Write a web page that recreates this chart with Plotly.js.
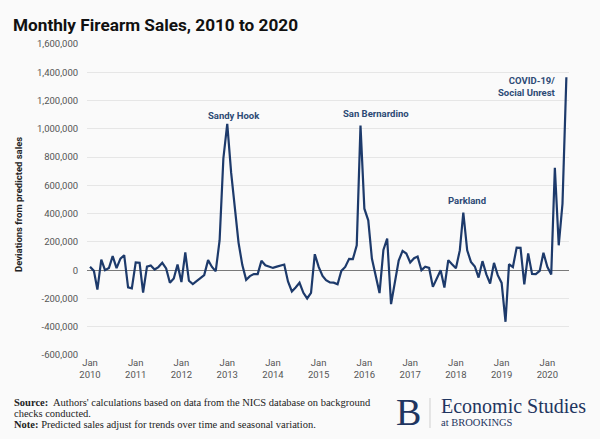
<!DOCTYPE html>
<html>
<head>
<meta charset="utf-8">
<script src="https://cdn.plot.ly/plotly-3.0.1.min.js"></script>
<style>
  html, body { margin: 0; padding: 0; background: #fafafa; }
  #chart { width: 600px; height: 439px; }
</style>
</head>
<body>
<div id="chart"></div>
<script>
// deviations from predicted monthly sales
const dev2010 = [24000, -5000, -137000, 75000, 0, 15000, 99000, 15000, 82000, 106000, -122000, -129000];
const dev2011 = [55000, 52000, -158000, 25000, 33000, 5000, 22000, 52000, 12000, -89000, -59000, 40000];
const dev2012 = [-84000, 125000, -75000, -99000, -78000, -54000, -35000, 71000, 23000, -7000, 212000, 790000];
const dev2013 = [1035000, 690000, 430000, 195000, 38000, -68000, -42000, -28000, -28000, 66000, 35000, 28000];
const dev2014 = [16000, 25000, 30000, 40000, -80000, -150000, -122000, -89000, -160000, -200000, -160000, 113000];
const dev2015 = [23000, -40000, -70000, -87000, -88000, -100000, -5000, 23000, 80000, 78000, 176000, 1023000];
const dev2016 = [435000, 353000, 82000, -55000, -162000, 143000, 224000, -240000, -94000, 68000, 136000, 118000];
const dev2017 = [55000, 85000, 96000, 0, 24000, 16000, -118000, -59000, 0, -123000, 71000, 42000];
const dev2018 = [14000, 140000, 408000, 140000, 59000, 26000, -52000, 64000, -30000, -94000, 52000, -35000];
const dev2019 = [-90000, -365000, 42000, 22000, 160000, 158000, -100000, 118000, -26000, -28000, -5000, 123000];
const dev2020 = [24000, -30000, 725000, 176000, 470000, 1365000];

const years = [2010, 2011, 2012, 2013, 2014, 2015, 2016, 2017, 2018, 2019, 2020];
const yearly = [dev2010, dev2011, dev2012, dev2013, dev2014, dev2015, dev2016, dev2017, dev2018, dev2019, dev2020];

const yTickVals = [-600000, -400000, -200000, 0, 200000, 400000, 600000, 800000, 1000000, 1200000, 1400000, 1600000];
const yTickText = ['-600,000', '-400,000', '-200,000', '0', '200,000', '400,000', '600,000', '800,000', '1,000,000', '1,200,000', '1,400,000', '1,600,000'];

const xTickVals = years.map(y => y + '-01-01');
const xTickText = years.map(y => 'Jan<br>' + y);

// flatten yearly arrays into a monthly series
const x = [], y = [];
yearly.forEach((vals, k) => {
  vals.forEach((v, m) => {
    x.push(years[k] + '-' + String(m + 1).padStart(2, '0') + '-01');
    y.push(v);
  });
});

const NAVY = '#1d3a6b';
const LABEL = '#2d4a75';

const trace = {
  x: x,
  y: y,
  type: 'scatter',
  mode: 'lines',
  line: { color: NAVY, width: 2.2 },
  hoverinfo: 'skip',
  showlegend: false
};

const annoFont = { family: 'Roboto, Arial, sans-serif', size: 9.5, color: LABEL, weight: 'bold' };
const footFont = { family: '"Liberation Serif", "DejaVu Serif", serif', size: 10.5, color: '#222' };

const layout = {
  width: 600,
  height: 439,
  margin: { l: 87, r: 31, t: 44, b: 84 },
  paper_bgcolor: '#fafafa',
  plot_bgcolor: '#fafafa',
  showlegend: false,
  title: {
    text: '<b>Monthly Firearm Sales, 2010 to 2020</b>',
    xref: 'container', yref: 'container',
    x: 13 / 600, xanchor: 'left',
    y: 1 - 25 / 439, yanchor: 'middle',
    font: { family: 'Roboto, Arial, sans-serif', size: 17.2, color: '#111' }
  },
  xaxis: {
    type: 'date',
    range: ['2009-12-08', '2020-06-22'],
    tickvals: xTickVals,
    ticktext: xTickText,
    tickfont: { family: 'Roboto, Arial, sans-serif', size: 9.5, color: '#555' },
    showgrid: false,
    zeroline: false,
    showline: false,
    ticks: ''
  },
  yaxis: {
    range: [-600000, 1600000],
    tickvals: yTickVals,
    ticktext: yTickText,
    tickfont: { family: 'Roboto, Arial, sans-serif', size: 9.5, color: '#555' },
    ticks: 'outside',
    ticklen: 6,
    tickcolor: 'rgba(0,0,0,0)',
    showgrid: true,
    gridcolor: '#e6e6e6',
    gridwidth: 1,
    zeroline: true,
    zerolinecolor: '#7a7a7a',
    zerolinewidth: 1.2,
    showline: false
  },
  shapes: [
    { type: 'line', xref: 'paper', yref: 'paper',
      x0: (430 - 87) / 482, x1: (430 - 87) / 482,
      y0: (355 - 398) / 311, y1: (355 - 428) / 311,
      line: { color: '#cfcfcf', width: 1 } }
  ],
  annotations: [
    { text: 'Deviations from predicted sales', textangle: -90,
      xref: 'paper', yref: 'paper', x: (19 - 87) / 482, y: (355 - 205) / 311,
      xanchor: 'center', yanchor: 'middle', showarrow: false,
      font: { family: 'Roboto, Arial, sans-serif', size: 9.5, color: '#222', weight: 'bold' } },
    { text: 'Sandy Hook', xref: 'paper', yref: 'paper',
      x: (233.5 - 87) / 482, y: (355 - 115) / 311,
      xanchor: 'center', yanchor: 'middle', showarrow: false, font: annoFont },
    { text: 'San Bernardino', xref: 'paper', yref: 'paper',
      x: (375.7 - 87) / 482, y: (355 - 114) / 311,
      xanchor: 'center', yanchor: 'middle', showarrow: false, font: annoFont },
    { text: 'Parkland', xref: 'paper', yref: 'paper',
      x: (467 - 87) / 482, y: (355 - 200) / 311,
      xanchor: 'center', yanchor: 'middle', showarrow: false, font: annoFont },
    { text: 'COVID-19/<br>Social Unrest', xref: 'paper', yref: 'paper', align: 'right',
      x: (558 - 87) / 482, y: (355 - 87) / 311,
      xanchor: 'right', yanchor: 'middle', showarrow: false, font: annoFont },

    { text: "<b>Source:</b>  Authors' calculations based on data from the NICS database on background",
      xref: 'paper', yref: 'paper', x: (12 - 87) / 482, y: (355 - 402) / 311,
      xanchor: 'left', yanchor: 'middle', showarrow: false, font: footFont },
    { text: 'checks conducted.',
      xref: 'paper', yref: 'paper', x: (12 - 87) / 482, y: (355 - 413) / 311,
      xanchor: 'left', yanchor: 'middle', showarrow: false, font: footFont },
    { text: '<b>Note:</b> Predicted sales adjust for trends over time and seasonal variation.',
      xref: 'paper', yref: 'paper', x: (12 - 87) / 482, y: (355 - 424) / 311,
      xanchor: 'left', yanchor: 'middle', showarrow: false, font: footFont },

    { text: 'B', xref: 'paper', yref: 'paper',
      x: (408 - 87) / 482, y: (355 - 412) / 311,
      xanchor: 'center', yanchor: 'middle', showarrow: false,
      font: { family: '"Liberation Serif", "DejaVu Serif", serif', size: 38, color: '#1f3560' } },
    { text: 'Economic Studies', xref: 'paper', yref: 'paper',
      x: (439 - 87) / 482, y: (355 - 406) / 311,
      xanchor: 'left', yanchor: 'middle', showarrow: false,
      font: { family: '"Liberation Serif", "DejaVu Serif", serif', size: 20, color: '#1f3560' } },
    { text: 'at BROOKINGS', xref: 'paper', yref: 'paper',
      x: (439 - 87) / 482, y: (355 - 422) / 311,
      xanchor: 'left', yanchor: 'middle', showarrow: false,
      font: { family: '"Liberation Serif", "DejaVu Serif", serif', size: 10.5, color: '#1f3560' } }
  ]
};

Plotly.newPlot('chart', [trace], layout, { displayModeBar: false, staticPlot: true });
</script>
</body>
</html>
